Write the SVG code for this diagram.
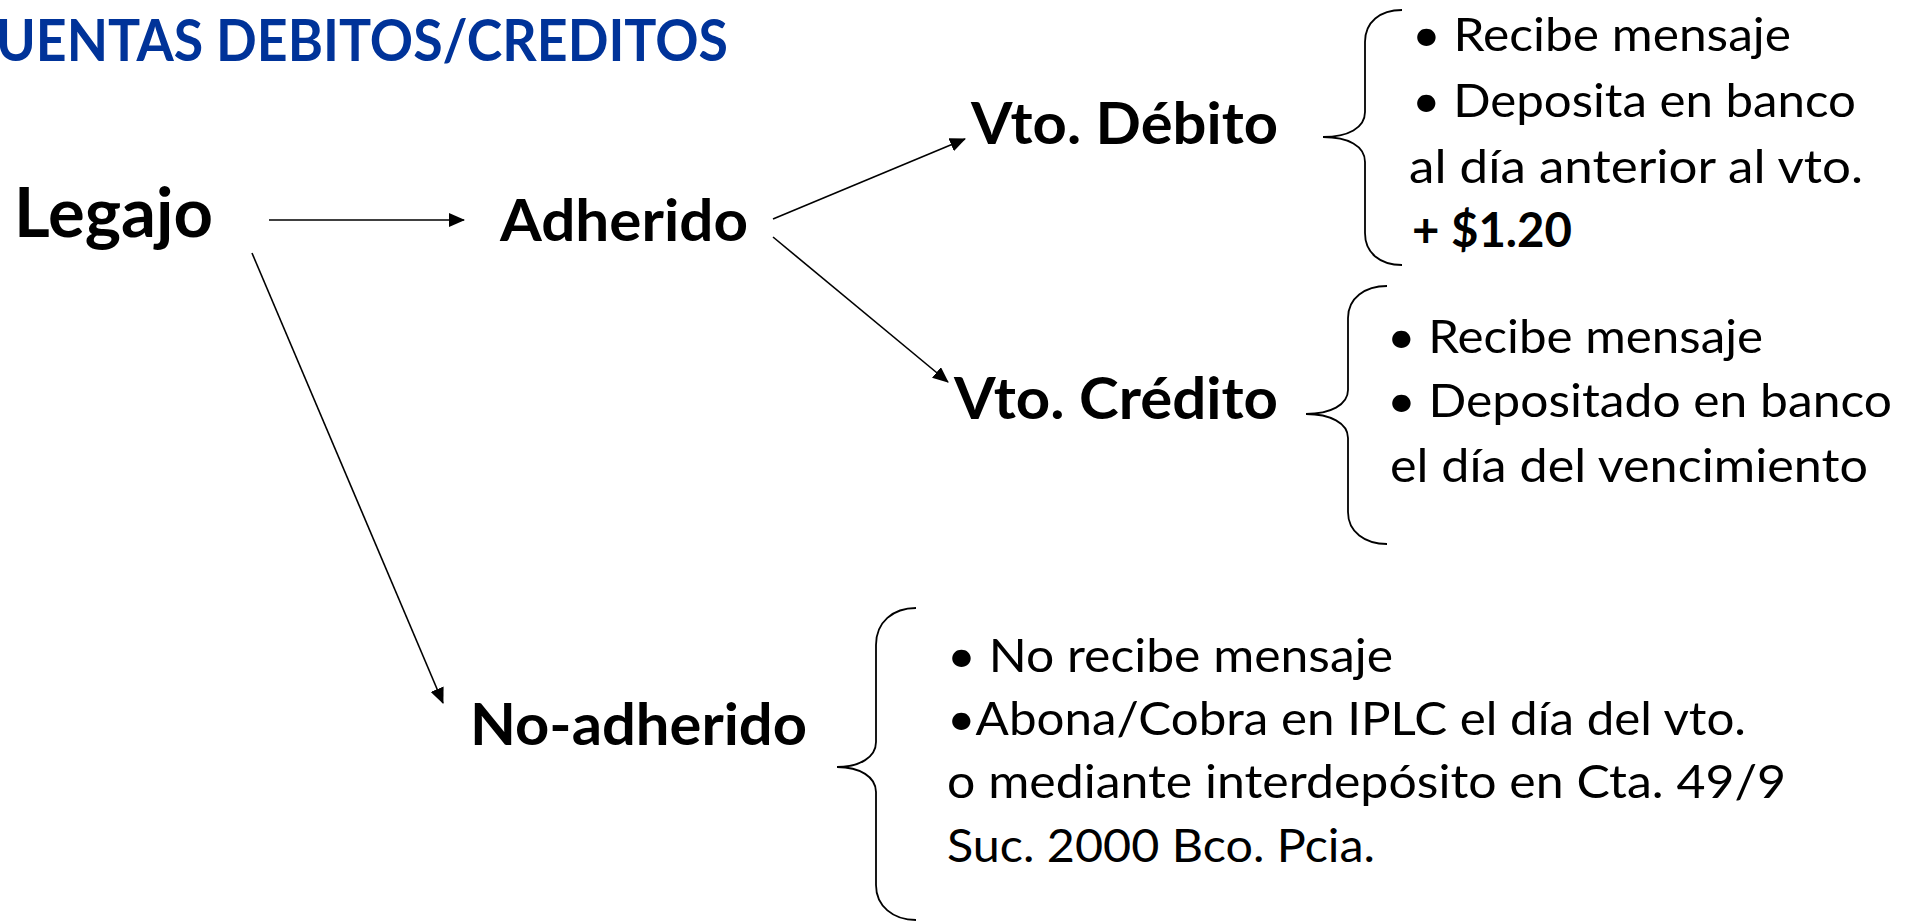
<svg xmlns="http://www.w3.org/2000/svg" width="1908" height="922" viewBox="0 0 1908 922">
<defs>
<style>
.t{font-family:Lato,"Open Sans","Liberation Sans",sans-serif;fill:#000}
.b{font-weight:bold}
.node{font-size:58px}
.body{font-size:47px}
.title{font-size:58px;font-weight:bold;fill:#003399}
.conn{stroke:#000;stroke-width:1.6;fill:none}
.brace{stroke:#000;stroke-width:1.8;fill:none}
</style>
<marker id="ah" markerUnits="userSpaceOnUse" markerWidth="16" markerHeight="14" refX="15" refY="7" orient="auto">
<path d="M0,0 L16,7 L0,14 Z" fill="#000"/>
</marker>
</defs>
<rect width="1908" height="922" fill="#fff"/>
<text class="t title" x="-4" y="61" textLength="732" lengthAdjust="spacingAndGlyphs">UENTAS DEBITOS/CREDITOS</text>

<g id="connectors">
<line class="conn" x1="269" y1="220" x2="464" y2="220" marker-end="url(#ah)"/>
<line class="conn" x1="252" y1="253" x2="443" y2="703" marker-end="url(#ah)"/>
<line class="conn" x1="773" y1="219" x2="965" y2="139" marker-end="url(#ah)"/>
<line class="conn" x1="773" y1="237" x2="948" y2="382" marker-end="url(#ah)"/>
</g>

<g id="legajo"><text class="t b" x="14" y="237" font-size="68" textLength="199" lengthAdjust="spacingAndGlyphs">Legajo</text></g>
<g id="adherido"><text class="t b node" x="500" y="241" textLength="248" lengthAdjust="spacingAndGlyphs">Adherido</text></g>
<g id="no-adherido"><text class="t b node" x="470" y="745" textLength="337" lengthAdjust="spacingAndGlyphs">No-adherido</text></g>
<g id="vto-debito"><text class="t b node" x="971" y="144" textLength="307" lengthAdjust="spacingAndGlyphs">Vto. Débito</text></g>
<g id="vto-credito"><text class="t b node" x="954" y="419" textLength="324" lengthAdjust="spacingAndGlyphs">Vto. Crédito</text></g>

<g id="debito-detalle">
<path class="brace" d="M1402,10 C1380,10 1365,22 1365,42 L1365,112 C1365,128 1348,137 1323,137 C1348,137 1365,146 1365,162 L1365,233 C1365,253 1380,265 1402,265"/>
<text class="t body" x="1412" y="51" textLength="379" lengthAdjust="spacingAndGlyphs">• Recibe mensaje</text>
<text class="t body" x="1412" y="117" textLength="444" lengthAdjust="spacingAndGlyphs">• Deposita en banco</text>
<text class="t body" x="1409" y="183" textLength="454" lengthAdjust="spacingAndGlyphs">al día anterior al vto.</text>
<text class="t body b" x="1412" y="247" textLength="160" lengthAdjust="spacingAndGlyphs">+ $1.20</text>
</g>

<g id="credito-detalle">
<path class="brace" d="M1387,286 C1365,286 1348,298 1348,318 L1348,390 C1348,405 1330,414 1306,414 C1330,414 1348,423 1348,438 L1348,512 C1348,532 1365,544 1387,544"/>
<text class="t body" x="1387" y="353" textLength="376" lengthAdjust="spacingAndGlyphs">• Recibe mensaje</text>
<text class="t body" x="1387" y="417" textLength="505" lengthAdjust="spacingAndGlyphs">• Depositado en banco</text>
<text class="t body" x="1390" y="482" textLength="478" lengthAdjust="spacingAndGlyphs">el día del vencimiento</text>
</g>

<g id="no-adherido-detalle">
<path class="brace" d="M916,608 C893,608 876,622 876,645 L876,742 C876,757 860,767 837,767 C860,767 876,777 876,792 L876,885 C876,906 893,920 916,920"/>
<text class="t body" x="947" y="672" textLength="446" lengthAdjust="spacingAndGlyphs">• No recibe mensaje</text>
<text class="t body" x="947" y="735" textLength="799" lengthAdjust="spacingAndGlyphs">•Abona/Cobra en IPLC el día del vto.</text>
<text class="t body" x="947" y="798" textLength="839" lengthAdjust="spacingAndGlyphs">o mediante interdepósito en Cta. 49/9</text>
<text class="t body" x="947" y="862" textLength="428" lengthAdjust="spacingAndGlyphs">Suc. 2000 Bco. Pcia.</text>
</g>
</svg>
